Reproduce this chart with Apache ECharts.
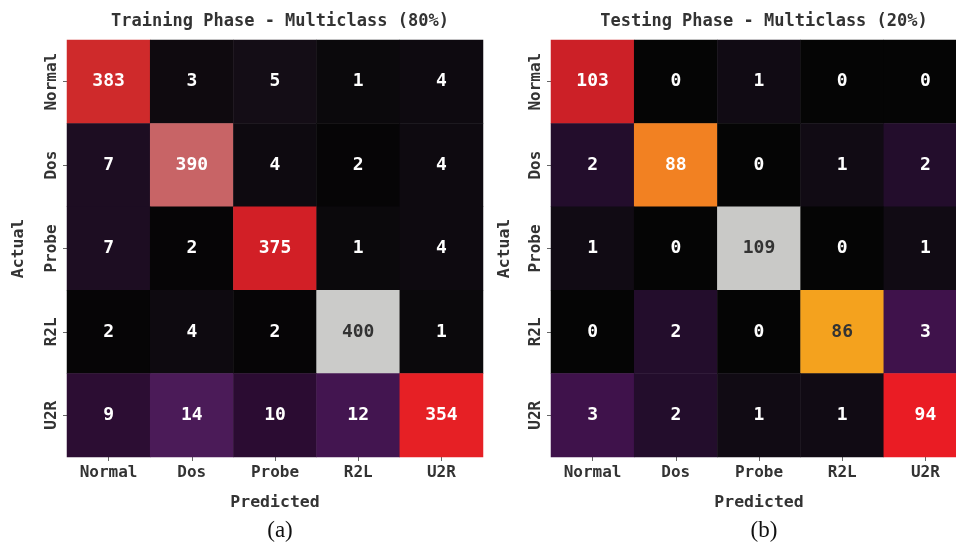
<!DOCTYPE html>
<html>
<head>
<meta charset="utf-8">
<script src="https://cdn.jsdelivr.net/npm/echarts@6/dist/echarts.min.js"></script>
<style>
  html, body { margin: 0; padding: 0; background: #ffffff; }
  #chart { width: 956px; height: 544px; }
</style>
</head>
<body>
<div id="chart"></div>
<script>
// Class labels shared by both confusion matrices
const classes = ['Normal', 'Dos', 'Probe', 'R2L', 'U2R'];

// Rows = actual class, columns = predicted class
const trainMatrix = [
  [383, 3, 5, 1, 4],
  [7, 390, 4, 2, 4],
  [7, 2, 375, 1, 4],
  [2, 4, 2, 400, 1],
  [9, 14, 10, 12, 354]
];
const testMatrix = [
  [103, 0, 1, 0, 0],
  [2, 88, 0, 1, 2],
  [1, 0, 109, 0, 1],
  [0, 2, 0, 86, 3],
  [3, 2, 1, 1, 94]
];

const titles = ['Training Phase - Multiclass (80%)', 'Testing Phase - Multiclass (20%)'];
const captions = ['(a)', '(b)'];

// Cell colour for each count
const trainColors = {
  1: '#0b090c', 2: '#060506', 3: '#0f0a0f', 4: '#0e0a10', 5: '#140d16',
  7: '#1d0d22', 9: '#2c0d33', 10: '#2b0c32', 12: '#431550', 14: '#4b1b58',
  354: '#e62025', 375: '#d21f26', 383: '#cf2a2b', 390: '#c86466', 400: '#cbcbc9'
};
const testColors = {
  0: '#050505', 1: '#110b14', 2: '#230d2c', 3: '#3f124b',
  86: '#f4a21e', 88: '#f28122', 94: '#ea1c24', 103: '#cc2027', 109: '#c9c9c7'
};

const MONO = '"DejaVu Sans Mono", monospace';
const TEXT = '#333333';

function luminance(hex) {
  const r = parseInt(hex.slice(1, 3), 16);
  const g = parseInt(hex.slice(3, 5), 16);
  const b = parseInt(hex.slice(5, 7), 16);
  return 0.299 * r + 0.587 * g + 0.114 * b;
}

function cells(matrix, colors) {
  const out = [];
  matrix.forEach((row, r) => {
    row.forEach((v, c) => {
      out.push({
        value: [c, r, v],
        label: { color: luminance(colors[v]) > 160 ? '#333333' : '#ffffff' }
      });
    });
  });
  return out;
}

function pieces(colors) {
  return Object.keys(colors).map(k => ({ value: Number(k), color: colors[k] }));
}

// The second panel runs past the right edge of the canvas
const panels = [
  { left: 67, matrix: trainMatrix, colors: trainColors, nameGap: 40 },
  { left: 551, matrix: testMatrix, colors: testColors, nameGap: 38 }
];
const GRID_W = 416, GRID_H = 417, GRID_TOP = 40;

const option = {
  backgroundColor: '#ffffff',
  animation: false,
  title: panels.map((p, i) => ({
    text: titles[i],
    left: p.left + GRID_W / 2,
    top: 8,
    textAlign: 'center',
    textStyle: { fontFamily: MONO, fontWeight: 'bold', fontSize: 17, color: TEXT }
  })).concat(panels.map((p, i) => ({
    text: captions[i],
    left: p.left + GRID_W / 2,
    top: 514,
    textAlign: 'center',
    textStyle: { fontFamily: '"Liberation Serif", serif', fontWeight: 'normal', fontSize: 23, color: '#111111' }
  }))),
  grid: panels.map(p => ({
    left: p.left, top: GRID_TOP, width: GRID_W, height: GRID_H,
    outerBoundsMode: 'none', containLabel: false
  })),
  xAxis: panels.map((p, i) => ({
    type: 'category',
    gridIndex: i,
    data: classes,
    position: 'bottom',
    name: 'Predicted',
    nameLocation: 'middle',
    nameGap: 37,
    nameTextStyle: { fontFamily: MONO, fontWeight: 'bold', fontSize: 16.5, color: TEXT },
    axisLine: { show: false },
    axisTick: { show: true, alignWithLabel: true, length: 4, lineStyle: { color: '#666666' } },
    axisLabel: { fontFamily: MONO, fontWeight: 'bold', fontSize: 16, color: TEXT, margin: 8 },
    splitLine: { show: false }
  })),
  yAxis: panels.map((p, i) => ({
    type: 'category',
    gridIndex: i,
    data: classes,
    inverse: true,
    name: 'Actual',
    nameLocation: 'middle',
    nameRotate: 90,
    nameGap: p.nameGap,
    nameTextStyle: { fontFamily: MONO, fontWeight: 'bold', fontSize: 16.5, color: TEXT },
    axisLine: { show: false },
    axisTick: { show: true, alignWithLabel: true, length: 4, lineStyle: { color: '#666666' } },
    axisLabel: { rotate: 90, fontFamily: MONO, fontWeight: 'bold', fontSize: 16, color: TEXT, margin: 7 },
    splitLine: { show: false }
  })),
  visualMap: panels.map((p, i) => ({
    type: 'piecewise',
    show: false,
    seriesIndex: i,
    dimension: 2,
    pieces: pieces(p.colors)
  })),
  series: panels.map((p, i) => ({
    type: 'heatmap',
    xAxisIndex: i,
    yAxisIndex: i,
    data: cells(p.matrix, p.colors),
    label: {
      show: true,
      formatter: prm => String(prm.value[2]),
      fontFamily: MONO,
      fontWeight: 'bold',
      fontSize: 18
    },
    emphasis: { disabled: true }
  }))
};

const chart = echarts.init(document.getElementById('chart'), null, { renderer: 'canvas' });
chart.setOption(option);
</script>
</body>
</html>
